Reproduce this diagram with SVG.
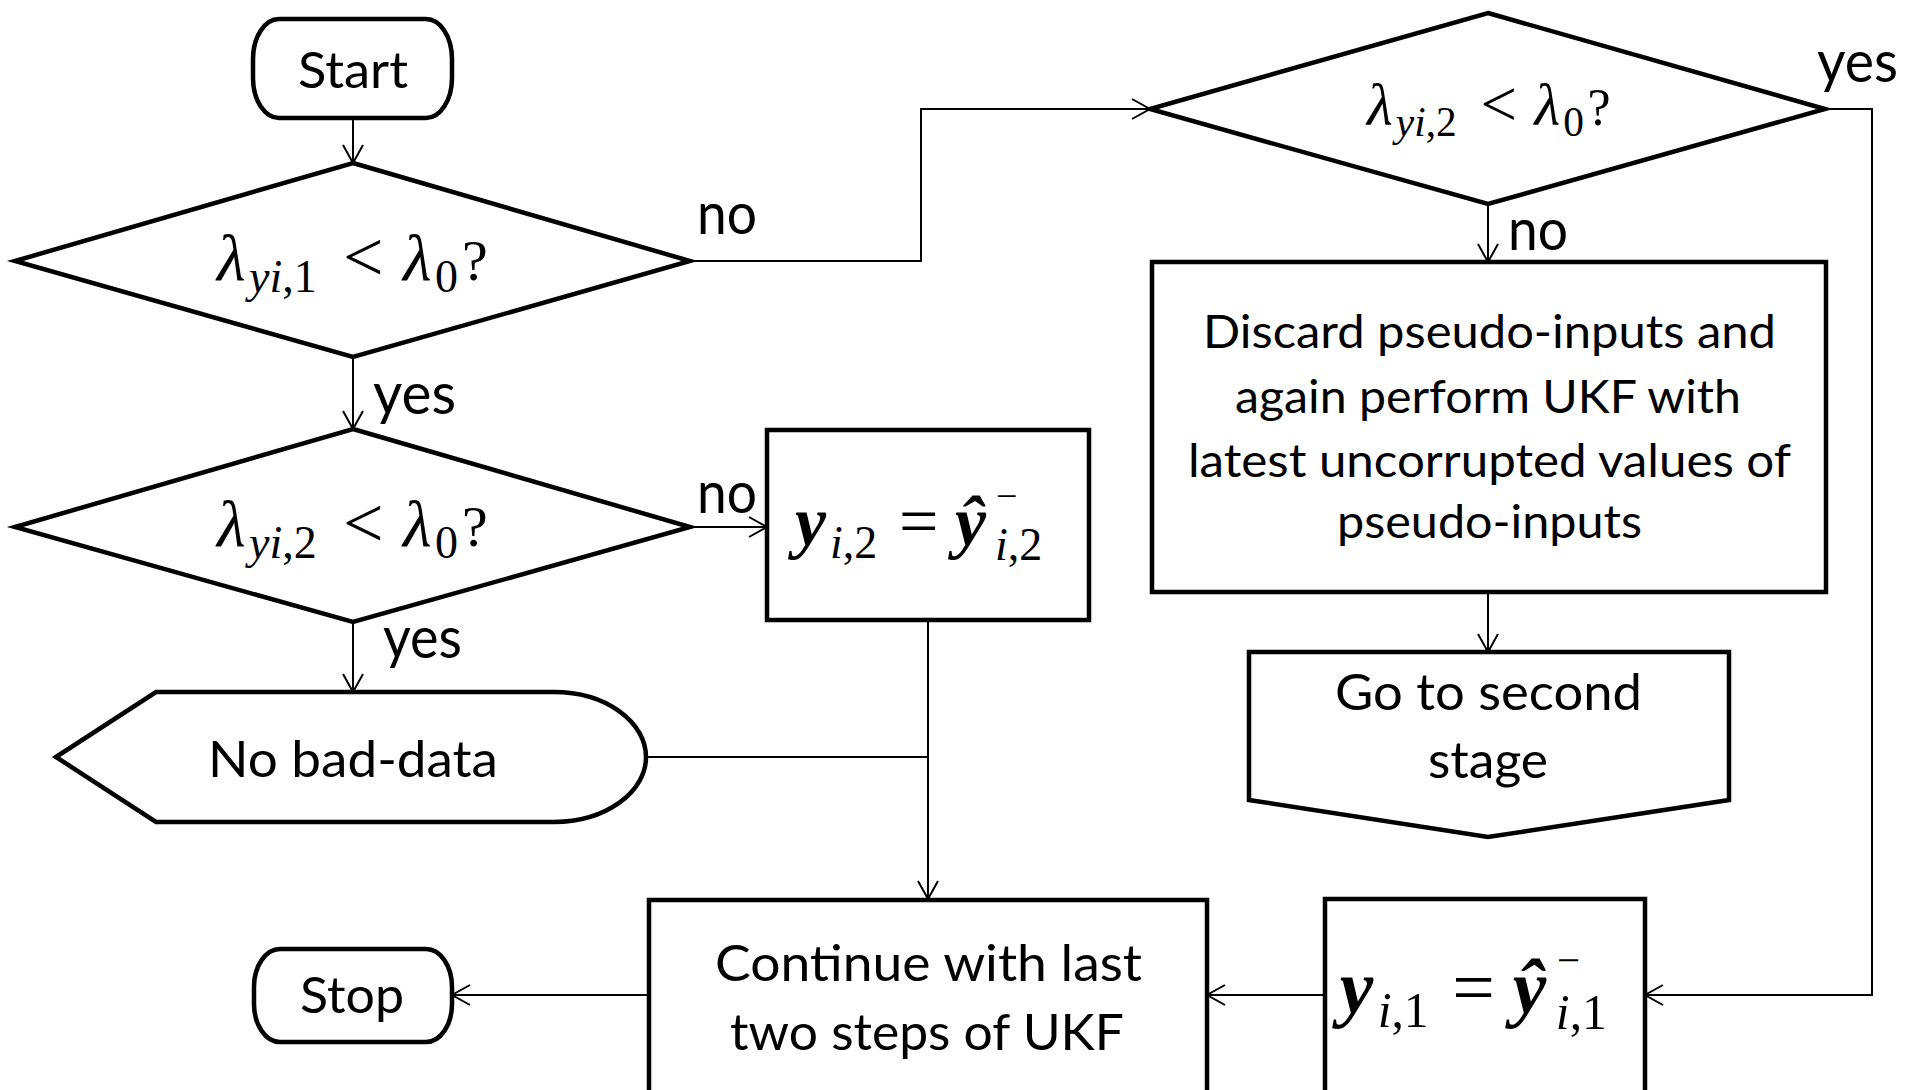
<svg xmlns="http://www.w3.org/2000/svg" width="1911" height="1090" viewBox="0 0 1911 1090">
<defs>
<style>
.shape{fill:#fff;stroke:#000;stroke-width:4.5;stroke-linejoin:miter}
.conn{fill:none;stroke:#000;stroke-width:2}
.t{font-family:Lato,"Open Sans","Liberation Sans",sans-serif;fill:#000;font-size:51px}
.td{font-family:Lato,"Open Sans","Liberation Sans",sans-serif;fill:#000;font-size:46.5px}
.lbl{font-family:Lato,"Open Sans","Liberation Sans",sans-serif;fill:#000;font-size:58px}
.m{font-family:"Liberation Serif","DejaVu Serif",serif;fill:#000}
.it{font-style:italic}
.bi{font-style:italic;font-weight:bold}
</style>
<marker id="arr" markerUnits="userSpaceOnUse" markerWidth="22" markerHeight="24" refX="19" refY="11" orient="auto" overflow="visible">
<path d="M1,1 L19,11 L1,21" fill="none" stroke="#000" stroke-width="2"/>
</marker>
</defs>
<rect width="1911" height="1090" fill="#fff"/>

<g id="connectors">
<path class="conn" d="M353,118 L353,163" marker-end="url(#arr)"/>
<path class="conn" d="M353,357 L353,429" marker-end="url(#arr)"/>
<path class="conn" d="M690,261 L921,261 L921,109 L1150,109" marker-end="url(#arr)"/>
<path class="conn" d="M690,527 L767,527" marker-end="url(#arr)"/>
<path class="conn" d="M353,622 L353,692" marker-end="url(#arr)"/>
<path class="conn" d="M928,620 L928,899" marker-end="url(#arr)"/>
<path class="conn" d="M646,757 L928,757"/>
<path class="conn" d="M1488,204 L1488,262" marker-end="url(#arr)"/>
<path class="conn" d="M1488,592 L1488,652" marker-end="url(#arr)"/>
<path class="conn" d="M1825,109 L1872,109 L1872,995 L1645,995" marker-end="url(#arr)"/>
<path class="conn" d="M1325,995 L1207,995" marker-end="url(#arr)"/>
<path class="conn" d="M649,995 L452,995" marker-end="url(#arr)"/>
</g>

<g id="labels">
<text class="lbl" x="697" y="234" textLength="60" lengthAdjust="spacingAndGlyphs">no</text>
<text class="lbl" x="373" y="414" textLength="83" lengthAdjust="spacingAndGlyphs">yes</text>
<text class="lbl" x="697" y="513" textLength="60" lengthAdjust="spacingAndGlyphs">no</text>
<text class="lbl" x="383" y="658" textLength="79" lengthAdjust="spacingAndGlyphs">yes</text>
<text class="lbl" x="1817" y="82" textLength="81" lengthAdjust="spacingAndGlyphs">yes</text>
<text class="lbl" x="1508" y="250" textLength="60" lengthAdjust="spacingAndGlyphs">no</text>
</g>

<g id="start">
<rect class="shape" x="253" y="19" width="199" height="99" rx="26" ry="40"/>
<text class="t" x="298" y="88" textLength="110" lengthAdjust="spacingAndGlyphs">Start</text>
</g>

<g id="decision1">
<polygon class="shape" points="353,163 690,261 353,357 15,261"/>
<text class="m">
<tspan class="it" x="217" y="280" font-size="66">λ</tspan><tspan class="it" x="249" y="292" font-size="46">yi</tspan><tspan y="292" font-size="46">,1</tspan><tspan x="343" y="281" font-size="72">&lt;</tspan><tspan class="it" x="403" y="280" font-size="66">λ</tspan><tspan x="435" y="292" font-size="46">0</tspan><tspan x="462" y="280" font-size="58">?</tspan>
</text>
</g>

<g id="decision2">
<polygon class="shape" points="353,429 690,527 353,622 15,527"/>
<text class="m">
<tspan class="it" x="217" y="546" font-size="66">λ</tspan><tspan class="it" x="249" y="558" font-size="46">yi</tspan><tspan y="558" font-size="46">,2</tspan><tspan x="343" y="547" font-size="72">&lt;</tspan><tspan class="it" x="403" y="546" font-size="66">λ</tspan><tspan x="435" y="558" font-size="46">0</tspan><tspan x="462" y="546" font-size="58">?</tspan>
</text>
</g>

<g id="decision3">
<polygon class="shape" points="1488,13 1825,109 1488,204 1150,109"/>
<g transform="translate(1367,125) scale(0.9) translate(-217,-280)">
<text class="m">
<tspan class="it" x="217" y="280" font-size="66">λ</tspan><tspan class="it" x="249" y="292" font-size="46">yi</tspan><tspan y="292" font-size="46">,2</tspan><tspan x="343" y="281" font-size="72">&lt;</tspan><tspan class="it" x="403" y="280" font-size="66">λ</tspan><tspan x="435" y="292" font-size="46">0</tspan><tspan x="462" y="280" font-size="58">?</tspan>
</text>
</g>
</g>

<g id="assign2">
<rect class="shape" x="767" y="430" width="322" height="190"/>
<text class="m">
<tspan class="bi" x="795" y="545" font-size="70">y</tspan><tspan class="it" x="830" y="558" font-size="46">i</tspan><tspan y="558" font-size="46">,2</tspan><tspan x="899" y="545" font-size="70">=</tspan><tspan class="bi" x="955" y="545" font-size="70">ŷ</tspan><tspan x="996" y="509" font-size="38">−</tspan><tspan class="it" x="995" y="560" font-size="46">i</tspan><tspan y="560" font-size="46">,2</tspan>
</text>
</g>

<g id="discard">
<rect class="shape" x="1152" y="262" width="674" height="330"/>
<text class="td" x="1203" y="348" textLength="573" lengthAdjust="spacingAndGlyphs">Discard pseudo-inputs and</text>
<text class="td" x="1235" y="413" textLength="506" lengthAdjust="spacingAndGlyphs">again perform UKF with</text>
<text class="td" x="1188" y="477" textLength="603" lengthAdjust="spacingAndGlyphs">latest uncorrupted values of</text>
<text class="td" x="1337" y="538" textLength="305" lengthAdjust="spacingAndGlyphs">pseudo-inputs</text>
</g>

<g id="second-stage">
<polygon class="shape" points="1249,652 1729,652 1729,800 1488,837 1249,800"/>
<text class="t" x="1335" y="710" textLength="307" lengthAdjust="spacingAndGlyphs">Go to second</text>
<text class="t" x="1428" y="778" textLength="120" lengthAdjust="spacingAndGlyphs">stage</text>
</g>

<g id="no-bad-data">
<path class="shape" d="M56,757 L156,692 L554,692 A92,65 0 0 1 554,822 L156,822 Z"/>
<text class="t" x="208" y="777" textLength="290" lengthAdjust="spacingAndGlyphs">No bad-data</text>
</g>

<g id="continue">
<rect class="shape" x="649" y="900" width="558" height="200"/>
<text class="t" x="715" y="981" textLength="427" lengthAdjust="spacingAndGlyphs">Continue with last</text>
<text class="t" x="730" y="1050" textLength="394" lengthAdjust="spacingAndGlyphs">two steps of UKF</text>
</g>

<g id="assign1">
<rect class="shape" x="1325" y="899" width="320" height="200"/>
<g transform="translate(1342,1013) scale(1.08) translate(-797,-545)">
<text class="m">
<tspan class="bi" x="795" y="545" font-size="70">y</tspan><tspan class="it" x="830" y="558" font-size="46">i</tspan><tspan y="558" font-size="46">,1</tspan><tspan x="899" y="545" font-size="70">=</tspan><tspan class="bi" x="955" y="545" font-size="70">ŷ</tspan><tspan x="996" y="509" font-size="38">−</tspan><tspan class="it" x="995" y="560" font-size="46">i</tspan><tspan y="560" font-size="46">,1</tspan>
</text>
</g>
</g>

<g id="stop">
<rect class="shape" x="254" y="949" width="198" height="93" rx="26" ry="38"/>
<text class="t" x="300" y="1013" textLength="104" lengthAdjust="spacingAndGlyphs">Stop</text>
</g>
</svg>
